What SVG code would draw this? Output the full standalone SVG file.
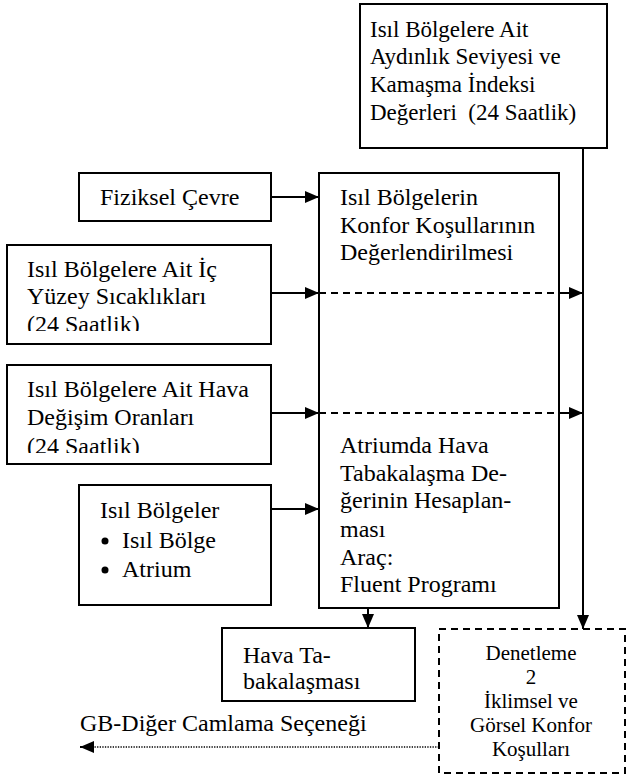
<svg xmlns="http://www.w3.org/2000/svg" width="629" height="778" viewBox="0 0 629 778">
<style>
.box{fill:#fff;stroke:#000;stroke-width:2}
.t{font-family:"Liberation Serif","Times New Roman","DejaVu Serif",serif;font-size:24px;fill:#000}
.tt{font-family:"Liberation Serif","Times New Roman","DejaVu Serif",serif;font-size:23px;fill:#000}
.s{font-family:"Liberation Serif","Times New Roman","DejaVu Serif",serif;font-size:21px;fill:#000;text-anchor:middle}
.ln{stroke:#000;stroke-width:2;fill:none}
.dash{stroke:#000;stroke-width:2;fill:none;stroke-dasharray:7 5}
.dot{stroke:#000;stroke-width:1.3;fill:none;stroke-dasharray:1.3 1.3}
</style>
<defs>
<marker id="ah" viewBox="0 0 14 12" refX="14" refY="6" markerWidth="14" markerHeight="12" markerUnits="userSpaceOnUse" orient="auto">
<path d="M0,0 L14,6 L0,12 Z" fill="#000"/>
</marker>
<clipPath id="c1"><rect x="7" y="245" width="264" height="86"/></clipPath>
<clipPath id="c2"><rect x="7" y="365" width="264" height="88"/></clipPath>
</defs>
<rect width="629" height="778" fill="#fff"/>

<g id="n-aydinlik">
<rect class="box" x="360" y="4" width="247" height="144"/>
<text class="tt" x="370" y="37">Isıl Bölgelere Ait</text>
<text class="tt" x="370" y="64">Aydınlık Seviyesi ve</text>
<text class="tt" x="370" y="92">Kamaşma İndeksi</text>
<text class="tt" x="370" y="120" xml:space="preserve">Değerleri  (24 Saatlik)</text>
</g>

<g id="n-fiziksel">
<rect class="box" x="79" y="173" width="192" height="48"/>
<text class="t" x="100" y="205">Fiziksel Çevre</text>
</g>

<g id="n-icyuzey">
<rect class="box" x="7" y="245" width="264" height="99"/>
<g clip-path="url(#c1)">
<text class="t" x="27" y="277">Isıl Bölgelere Ait İç</text>
<text class="t" x="27" y="304">Yüzey Sıcaklıkları</text>
<text class="t" x="27" y="332">(24 Saatlik)</text>
</g>
</g>

<g id="n-hava">
<rect class="box" x="7" y="365" width="264" height="99"/>
<g clip-path="url(#c2)">
<text class="t" x="27" y="397">Isıl Bölgelere Ait Hava</text>
<text class="t" x="27" y="425">Değişim Oranları</text>
<text class="t" x="27" y="454">(24 Saatlik)</text>
</g>
</g>

<g id="n-bolgeler">
<rect class="box" x="79" y="485" width="192" height="120"/>
<text class="t" x="100" y="518">Isıl Bölgeler</text>
<circle cx="105" cy="541" r="3.5" fill="#000"/>
<text class="t" x="122" y="548">Isıl Bölge</text>
<circle cx="105" cy="570" r="3.5" fill="#000"/>
<text class="t" x="122" y="577">Atrium</text>
</g>

<g id="n-main">
<rect class="box" x="319" y="173" width="240" height="435"/>
<text class="t" x="340" y="205">Isıl Bölgelerin</text>
<text class="t" x="340" y="233">Konfor Koşullarının</text>
<text class="t" x="340" y="260">Değerlendirilmesi</text>
<text class="t" x="340" y="453">Atriumda Hava</text>
<text class="t" x="340" y="481">Tabakalaşma De-</text>
<text class="t" x="340" y="508">ğerinin Hesaplan-</text>
<text class="t" x="340" y="537">ması</text>
<text class="t" x="340" y="565">Araç:</text>
<text class="t" x="340" y="592">Fluent Programı</text>
</g>

<g id="n-tabaka">
<rect class="box" x="222" y="628" width="193" height="73"/>
<text class="t" x="243" y="663">Hava Ta-</text>
<text class="t" x="243" y="689">bakalaşması</text>
</g>

<g id="n-denetleme">
<rect class="dash" x="439" y="629" width="186" height="144"/>
<text class="s" x="531" y="660">Denetleme</text>
<text class="s" x="531" y="684">2</text>
<text class="s" x="531" y="708">İklimsel ve</text>
<text class="s" x="531" y="732">Görsel Konfor</text>
<text class="s" x="531" y="756">Koşulları</text>
</g>

<g id="n-gb">
<text class="t" x="80" y="731">GB-Diğer Camlama Seçeneği</text>
</g>

<g id="connectors">
<line class="ln" x1="271" y1="197" x2="319" y2="197" marker-end="url(#ah)"/>
<line class="ln" x1="271" y1="293" x2="319" y2="293" marker-end="url(#ah)"/>
<line class="ln" x1="271" y1="413" x2="319" y2="413" marker-end="url(#ah)"/>
<line class="ln" x1="271" y1="509" x2="319" y2="509" marker-end="url(#ah)"/>
<line class="dash" x1="319" y1="293" x2="570" y2="293"/>
<line class="ln" x1="565" y1="293" x2="583" y2="293" marker-end="url(#ah)"/>
<line class="dash" x1="319" y1="413" x2="570" y2="413"/>
<line class="ln" x1="565" y1="413" x2="583" y2="413" marker-end="url(#ah)"/>
<line class="ln" x1="583" y1="148" x2="583" y2="629" marker-end="url(#ah)"/>
<line class="ln" x1="368" y1="608" x2="368" y2="628" marker-end="url(#ah)"/>
<line class="dot" x1="439" y1="747" x2="90" y2="747"/>
<line class="ln" x1="92" y1="747" x2="80" y2="747" marker-end="url(#ah)"/>
</g>
</svg>
